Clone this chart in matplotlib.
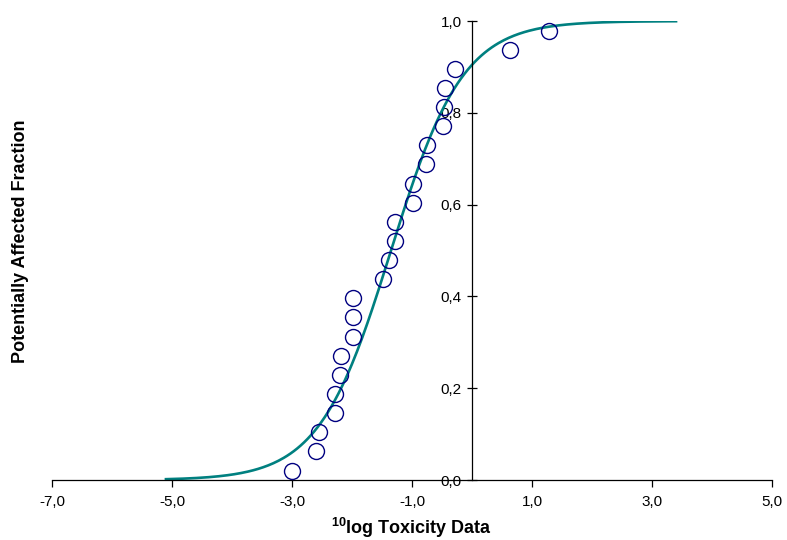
import numpy as np
import matplotlib
matplotlib.use('Agg')
from matplotlib import pyplot as plt
from matplotlib.ticker import FuncFormatter

plt.rcParams['font.family'] = ['Liberation Sans', 'DejaVu Sans']
plt.rcParams['mathtext.fontset'] = 'custom'
plt.rcParams['mathtext.bf'] = 'Liberation Sans:bold'
plt.rcParams['mathtext.rm'] = 'Liberation Sans'

# observed toxicity data (10log) and plotting positions
log_tox = [-3.0, -2.6, -2.55, -2.28, -2.28, -2.2, -2.18, -1.99, -1.99, -1.99,
           -1.48, -1.38, -1.28, -1.28, -0.98, -0.98, -0.77, -0.75, -0.49, -0.47,
           -0.445, -0.28, 0.63, 1.29]
paf = [0.0208, 0.0625, 0.1042, 0.1458, 0.1875, 0.2292, 0.2708, 0.3125, 0.3542, 0.3958,
       0.4375, 0.4792, 0.5208, 0.5625, 0.6042, 0.6458, 0.6875, 0.7292, 0.7708, 0.8125,
       0.8542, 0.8958, 0.9375, 0.9792]

# fitted logistic SSD
mu = -1.35
beta = 0.6
x_start, x_end = -5.1, 3.4

xfit = np.linspace(x_start, x_end, 300)
yfit = 1.0 / (1.0 + np.exp(-(xfit - mu) / beta))

fig = plt.figure(figsize=(7.87, 5.4), dpi=100)
ax = fig.add_axes([0.066, 0.111, 0.915, 0.85])

ax.plot(xfit, yfit, color='#008080', lw=1.9, zorder=2)
ax.plot(log_tox, paf, 'o', mfc='none', mec='#000080', ms=11.5, mew=1.0, zorder=3)

ax.set_xlim(-7, 5)
ax.set_ylim(0, 1.0)
ax.spines['left'].set_position(('data', 0))
ax.spines['bottom'].set_position(('data', 0))
ax.spines['top'].set_visible(False)
ax.spines['right'].set_visible(False)
for s in ['left', 'bottom']:
    ax.spines[s].set_color('black')
    ax.spines[s].set_linewidth(0.9)

ax.set_xticks(np.arange(-7, 5.1, 2))
ax.set_yticks(np.arange(0, 1.01, 0.2))
fmt = FuncFormatter(lambda v, p: ('%.1f' % v).replace('.', ','))
ax.xaxis.set_major_formatter(fmt)
ax.yaxis.set_major_formatter(fmt)
ax.tick_params(axis='x', direction='out', length=5, width=0.9, labelsize=11, pad=6)
ax.tick_params(axis='y', direction='inout', length=7, width=0.9, labelsize=11, pad=4)
ax.set_facecolor('none')

fig.text(0.026, 0.553, 'Potentially Affected Fraction', rotation=90,
         ha='center', va='center', fontsize=13, fontweight='bold')
fig.text(0.523, 0.022, r'$^{\mathbf{10}}$log Toxicity Data',
         ha='center', va='center', fontsize=13, fontweight='bold')

fig.savefig('out.png', dpi=100)
